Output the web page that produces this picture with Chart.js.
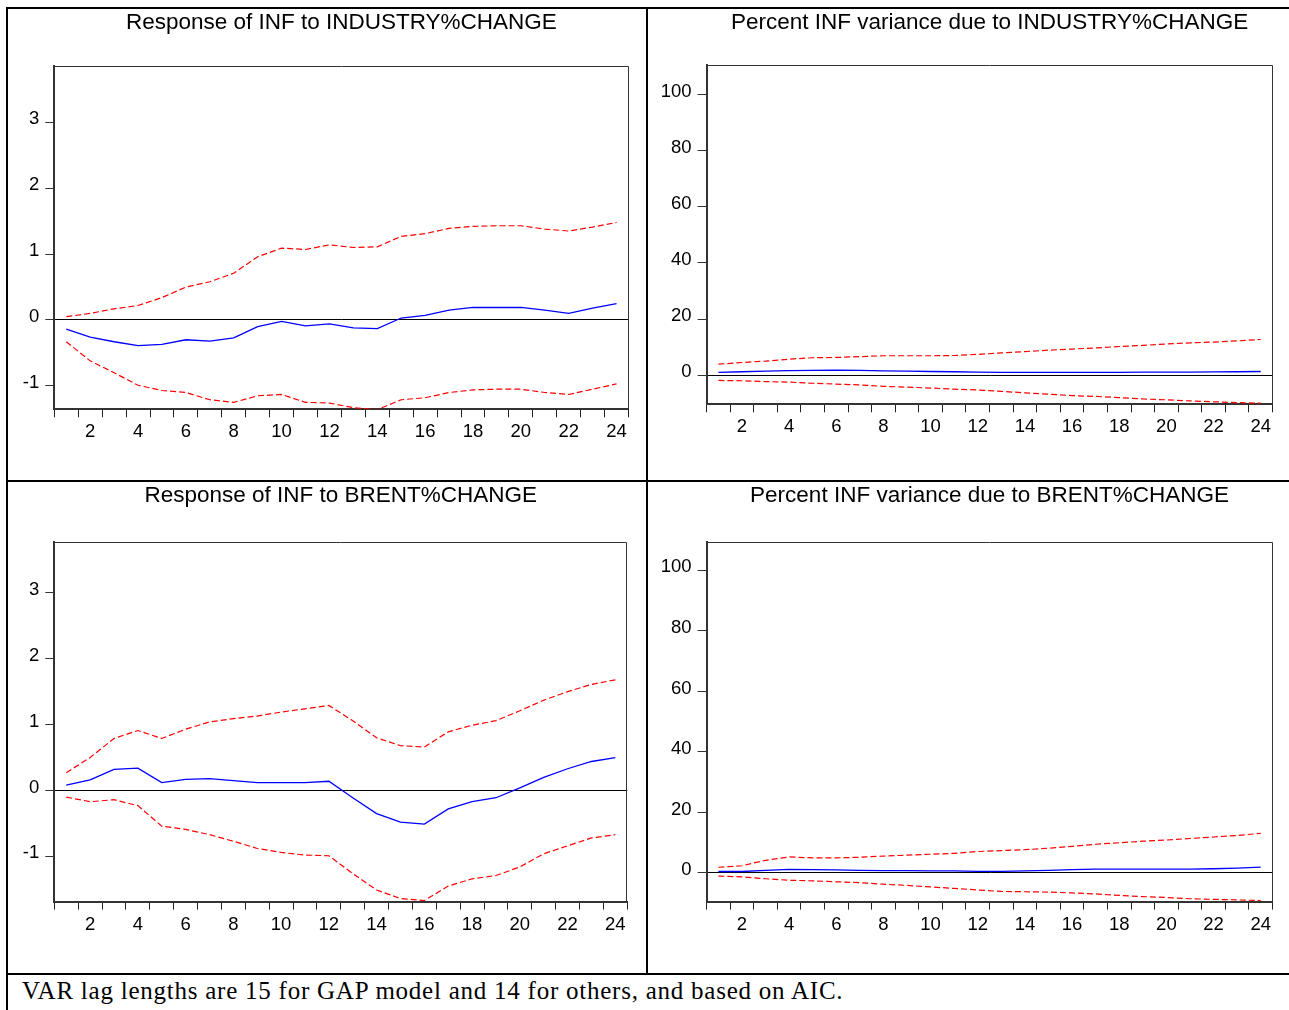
<!DOCTYPE html>
<html>
<head>
<meta charset="utf-8">
<title>VAR impulse responses and variance decompositions for INF</title>
<script src="https://cdn.jsdelivr.net/npm/chart.js@4.4.1/dist/chart.umd.min.js"></script>
<style>
  html, body { margin: 0; padding: 0; background: #fff; }
  #page { position: relative; width: 1289px; height: 1010px; overflow: hidden; background: #fff; }
  #page canvas { position: absolute; }
  .rule { position: absolute; background: #000; }
  #note {
    position: absolute; left: 22px; top: 978px;
    font-family: 'Liberation Serif', 'Times New Roman', serif;
    font-size: 25px; line-height: 25px; letter-spacing: 0.76px;
    white-space: nowrap; color: #000;
  }
</style>
</head>
<body>
<div id="page">
  <canvas id="respIndustry" width="646" height="480" style="left:0px;top:0px"></canvas>
  <canvas id="shareIndustry" width="643" height="480" style="left:646px;top:0px"></canvas>
  <canvas id="respBrent" width="646" height="494" style="left:0px;top:480px"></canvas>
  <canvas id="shareBrent" width="643" height="494" style="left:646px;top:480px"></canvas>

  <div class="rule" style="left:6px;top:7px;width:1283px;height:2px"></div>
  <div class="rule" style="left:6px;top:7px;width:2px;height:1003px"></div>
  <div class="rule" style="left:646px;top:7px;width:2px;height:967px"></div>
  <div class="rule" style="left:6px;top:480px;width:1283px;height:2px"></div>
  <div class="rule" style="left:6px;top:973px;width:1283px;height:2px"></div>

  <div id="note">VAR lag lengths are 15 for GAP model and 14 for others, and based on AIC.</div>
</div>

<script>
// Horizon (periods after the shock)
const periods = ['1','2','3','4','5','6','7','8','9','10','11','12',
                 '13','14','15','16','17','18','19','20','21','22','23','24'];

// Tick values on the vertical axes
const responseTicks = [-1, 0, 1, 2, 3];
const shareTicks = [0, 20, 40, 60, 80, 100];

// Response of INF to INDUSTRY%CHANGE: estimate and +/- 2 S.E. bands
const industryResponse = [-0.14, -0.26, -0.33, -0.39, -0.37, -0.30, -0.32, -0.27, -0.10, -0.02, -0.09, -0.06,
                          -0.12, -0.13, 0.03, 0.07, 0.15, 0.19, 0.19, 0.19, 0.15, 0.10, 0.18, 0.25];
const industryUpper = [0.05, 0.10, 0.17, 0.22, 0.34, 0.50, 0.58, 0.71, 0.96, 1.09, 1.07, 1.14,
                       1.10, 1.11, 1.27, 1.31, 1.39, 1.42, 1.43, 1.43, 1.38, 1.35, 1.41, 1.48];
const industryLower = [-0.33, -0.62, -0.80, -0.99, -1.07, -1.10, -1.21, -1.25, -1.15, -1.13, -1.25, -1.26,
                       -1.33, -1.36, -1.21, -1.18, -1.10, -1.06, -1.05, -1.05, -1.10, -1.13, -1.05, -0.97];

// Percent of INF forecast-error variance due to INDUSTRY%CHANGE
const industryShare = [1.0, 1.2, 1.4, 1.6, 1.7, 1.8, 1.7, 1.5, 1.4, 1.3, 1.2, 1.1,
                       1.0, 1.0, 1.0, 1.0, 1.0, 1.0, 1.05, 1.1, 1.1, 1.15, 1.2, 1.3];
const industryShareUpper = [3.9, 4.5, 5.0, 5.7, 6.2, 6.3, 6.6, 6.9, 6.9, 6.9, 7.0, 7.4,
                            7.9, 8.4, 8.9, 9.3, 9.7, 10.2, 10.6, 11.1, 11.5, 11.8, 12.2, 12.7];
const industryShareLower = [-1.9, -2.0, -2.3, -2.5, -2.9, -3.2, -3.5, -4.0, -4.3, -4.6, -5.0, -5.3,
                            -5.8, -6.3, -6.8, -7.3, -7.6, -8.0, -8.5, -8.8, -9.2, -9.5, -9.8, -10.0];

// Response of INF to BRENT%CHANGE: estimate and +/- 2 S.E. bands
const brentResponse = [0.08, 0.16, 0.32, 0.34, 0.12, 0.17, 0.18, 0.15, 0.12, 0.12, 0.12, 0.14,
                       -0.11, -0.35, -0.48, -0.51, -0.28, -0.17, -0.11, 0.04, 0.20, 0.33, 0.44, 0.50];
const brentUpper = [0.27, 0.50, 0.79, 0.91, 0.79, 0.93, 1.04, 1.09, 1.13, 1.19, 1.24, 1.29,
                    1.06, 0.80, 0.68, 0.66, 0.89, 0.99, 1.06, 1.21, 1.37, 1.50, 1.61, 1.68];
const brentLower = [-0.10, -0.17, -0.14, -0.23, -0.54, -0.59, -0.67, -0.77, -0.88, -0.94, -0.98, -0.99,
                    -1.26, -1.51, -1.64, -1.67, -1.45, -1.34, -1.29, -1.16, -0.96, -0.84, -0.72, -0.67];

// Percent of INF forecast-error variance due to BRENT%CHANGE
const brentShare = [0.5, 0.5, 0.9, 1.2, 1.1, 1.0, 0.9, 0.8, 0.8, 0.7, 0.7, 0.55,
                    0.55, 0.7, 0.9, 1.1, 1.25, 1.25, 1.25, 1.25, 1.3, 1.4, 1.6, 1.95];
const brentShareUpper = [1.9, 2.4, 4.2, 5.3, 5.0, 5.0, 5.2, 5.6, 5.9, 6.2, 6.5, 7.1,
                         7.4, 7.7, 8.2, 8.8, 9.5, 10.0, 10.5, 10.9, 11.4, 11.9, 12.4, 13.1];
const brentShareLower = [-1.0, -1.3, -1.9, -2.4, -2.6, -2.9, -3.2, -3.7, -4.1, -4.6, -5.1, -5.6,
                         -6.1, -6.2, -6.3, -6.6, -6.9, -7.4, -7.8, -8.1, -8.5, -8.7, -8.9, -9.1];

const SANS = "'Liberation Sans', Arial, Helvetica, sans-serif";

// Thin outline along the top and right edges of the plot area
const plotFrame = {
  id: 'plotFrame',
  afterDraw(chart) {
    const { ctx, chartArea: a } = chart;
    const top = Math.round(a.top) + 0.5;
    const right = Math.round(a.right) - 0.5;
    ctx.save();
    ctx.strokeStyle = '#333';
    ctx.lineWidth = 1;
    ctx.beginPath();
    ctx.moveTo(a.left, top);
    ctx.lineTo(right, top);
    ctx.lineTo(right, a.bottom);
    ctx.stroke();
    ctx.restore();
  }
};

function bandStyle(values) {
  return {
    data: values,
    borderColor: '#ff0000',
    borderWidth: 1.2,
    borderDash: [6, 3],
    pointRadius: 0,
    tension: 0,
    fill: false
  };
}

function drawPanel(canvasId, cfg) {
  new Chart(document.getElementById(canvasId), {
    type: 'line',
    data: {
      labels: periods,
      datasets: [
        bandStyle(cfg.upper),
        bandStyle(cfg.lower),
        { data: cfg.mid, borderColor: '#0000ff', borderWidth: 1.3, pointRadius: 0, tension: 0, fill: false }
      ]
    },
    options: {
      responsive: false,
      animation: false,
      devicePixelRatio: 1,
      events: [],
      layout: { padding: { left: 0, right: cfg.padRight, top: 0, bottom: cfg.padBottom } },
      plugins: {
        legend: { display: false },
        tooltip: { enabled: false },
        title: {
          display: true,
          text: cfg.title,
          fullSize: false,
          color: '#000',
          font: { family: SANS, size: 22.5, weight: 'normal', lineHeight: 1.2 },
          padding: { top: cfg.titleTop, bottom: cfg.titleGap }
        }
      },
      scales: {
        x: {
          type: 'category',
          offset: true,
          grid: { offset: true, drawOnChartArea: false, drawTicks: true, tickLength: 8, color: '#222', lineWidth: 1 },
          border: { display: true, color: '#333', width: 2 },
          ticks: {
            autoSkip: false,
            maxRotation: 0,
            padding: 4,
            color: '#000',
            font: { family: SANS, size: 18.5 },
            callback: function (value, index) {
              return index % 2 === 1 ? this.getLabelForValue(value) : '';
            }
          },
          afterFit: (scale) => { scale.height = 40; }
        },
        y: {
          min: cfg.min,
          max: cfg.max,
          afterBuildTicks: (scale) => { scale.ticks = cfg.ticks.map(v => ({ value: v })); },
          grid: {
            drawOnChartArea: true,
            color: (ctx) => (ctx.tick && ctx.tick.value === 0) ? '#000' : 'rgba(0,0,0,0)',
            tickColor: '#333',
            tickLength: 9,
            lineWidth: 1
          },
          border: { display: true, color: '#333', width: 2 },
          ticks: {
            padding: 6,
            labelOffset: -3,
            color: '#000',
            font: { family: SANS, size: 18.5 },
            callback: (v) => String(v)
          },
          afterFit: (scale) => { scale.width = cfg.axisWidth; }
        }
      }
    },
    plugins: [plotFrame]
  });
}

drawPanel('respIndustry', {
  title: 'Response of INF to INDUSTRY%CHANGE',
  mid: industryResponse, upper: industryUpper, lower: industryLower,
  ticks: responseTicks, min: -1.355, max: 3.86,
  axisWidth: 54.3, padRight: 17.5, padBottom: 30.7, titleTop: 8.8, titleGap: 29.8
});

drawPanel('shareIndustry', {
  title: 'Percent INF variance due to INDUSTRY%CHANGE',
  mid: industryShare, upper: industryShareUpper, lower: industryShareLower,
  ticks: shareTicks, min: -10.4, max: 110.7,
  axisWidth: 60.6, padRight: 16.5, padBottom: 35.7, titleTop: 8.8, titleGap: 28.8
});

drawPanel('respBrent', {
  title: 'Response of INF to BRENT%CHANGE',
  mid: brentResponse, upper: brentUpper, lower: brentLower,
  ticks: responseTicks, min: -1.686, max: 3.777,
  axisWidth: 54.3, padRight: 18.7, padBottom: 32.4, titleTop: 2.7, titleGap: 31.9
});

drawPanel('shareBrent', {
  title: 'Percent INF variance due to BRENT%CHANGE',
  mid: brentShare, upper: brentShareUpper, lower: brentShareLower,
  ticks: shareTicks, min: -9.45, max: 109.5,
  axisWidth: 60.6, padRight: 16.5, padBottom: 32.4, titleTop: 2.7, titleGap: 31.9
});
</script>
</body>
</html>
